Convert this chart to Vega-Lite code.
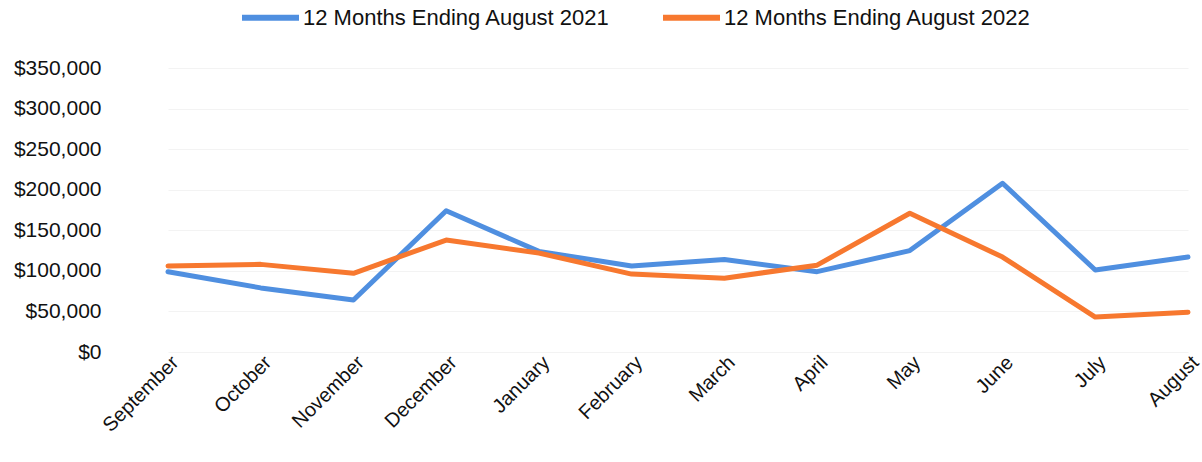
{
  "$schema": "https://vega.github.io/schema/vega-lite/v6.json",
  "width": 1020,
  "height": 284,
  "autosize": {"type": "none"},
  "padding": {"left": 168, "top": 68, "right": 14, "bottom": 110},
  "background": "white",
  "config": {
    "view": {"stroke": null},
    "font": "Liberation Sans"
  },
  "data": {
    "values": [
      {"month": "September", "series": "12 Months Ending August 2021", "value": 99000},
      {"month": "October", "series": "12 Months Ending August 2021", "value": 79000},
      {"month": "November", "series": "12 Months Ending August 2021", "value": 64000},
      {"month": "December", "series": "12 Months Ending August 2021", "value": 174000},
      {"month": "January", "series": "12 Months Ending August 2021", "value": 124000},
      {"month": "February", "series": "12 Months Ending August 2021", "value": 106000},
      {"month": "March", "series": "12 Months Ending August 2021", "value": 114000},
      {"month": "April", "series": "12 Months Ending August 2021", "value": 99000},
      {"month": "May", "series": "12 Months Ending August 2021", "value": 125000},
      {"month": "June", "series": "12 Months Ending August 2021", "value": 208000},
      {"month": "July", "series": "12 Months Ending August 2021", "value": 101000},
      {"month": "August", "series": "12 Months Ending August 2021", "value": 117000},
      {"month": "September", "series": "12 Months Ending August 2022", "value": 106000},
      {"month": "October", "series": "12 Months Ending August 2022", "value": 108000},
      {"month": "November", "series": "12 Months Ending August 2022", "value": 97000},
      {"month": "December", "series": "12 Months Ending August 2022", "value": 138000},
      {"month": "January", "series": "12 Months Ending August 2022", "value": 122000},
      {"month": "February", "series": "12 Months Ending August 2022", "value": 96000},
      {"month": "March", "series": "12 Months Ending August 2022", "value": 91000},
      {"month": "April", "series": "12 Months Ending August 2022", "value": 107000},
      {"month": "May", "series": "12 Months Ending August 2022", "value": 171000},
      {"month": "June", "series": "12 Months Ending August 2022", "value": 117000},
      {"month": "July", "series": "12 Months Ending August 2022", "value": 43000},
      {"month": "August", "series": "12 Months Ending August 2022", "value": 49000}
    ]
  },
  "mark": {"type": "line", "strokeWidth": 5, "strokeJoin": "round", "strokeCap": "round"},
  "encoding": {
    "x": {
      "field": "month",
      "type": "ordinal",
      "sort": ["September", "October", "November", "December", "January", "February", "March", "April", "May", "June", "July", "August"],
      "scale": {"type": "point", "padding": 0},
      "axis": {
        "title": null,
        "labelAngle": -45,
        "labelFontSize": 20,
        "labelColor": "#111111",
        "labelPadding": 0,
        "ticks": false,
        "domain": false,
        "grid": false
      }
    },
    "y": {
      "field": "value",
      "type": "quantitative",
      "scale": {"domain": [0, 350000], "nice": false},
      "axis": {
        "title": null,
        "values": [0, 50000, 100000, 150000, 200000, 250000, 300000, 350000],
        "format": "$,.0f",
        "labelFontSize": 21,
        "labelColor": "#111111",
        "labelPadding": 67,
        "ticks": false,
        "domain": false,
        "grid": true,
        "gridColor": "#f3f3f3",
        "gridWidth": 1
      }
    },
    "color": {
      "field": "series",
      "type": "nominal",
      "scale": {"domain": ["12 Months Ending August 2021", "12 Months Ending August 2022"], "range": ["#4f8fe0", "#f7782f"]},
      "legend": {
        "title": null,
        "orient": "none",
        "direction": "horizontal",
        "legendX": 71,
        "legendY": -82,
        "symbolType": "stroke",
        "symbolSize": 3249,
        "symbolStrokeWidth": 6,
        "labelFontSize": 22,
        "labelColor": "#111111",
        "labelOffset": 1,
        "columnPadding": 40,
        "labelLimit": 400
      }
    }
  }
}
